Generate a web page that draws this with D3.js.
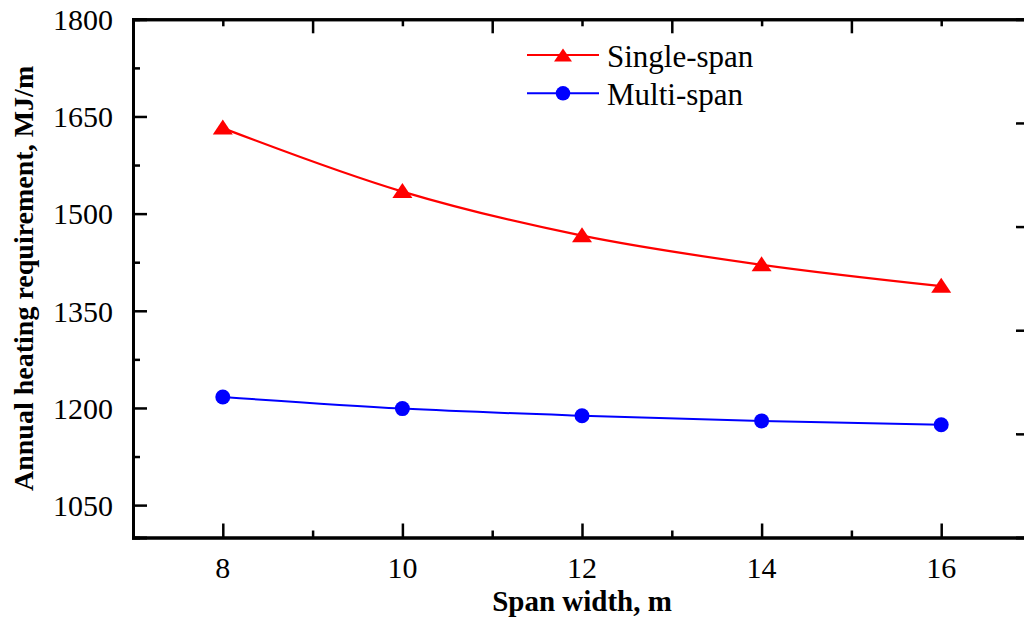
<!DOCTYPE html>
<html>
<head>
<meta charset="utf-8">
<script src="https://cdn.jsdelivr.net/npm/d3@7"></script>
<style>
html,body{margin:0;padding:0;background:#fff;}
svg{display:block;}
text{font-family:"Liberation Serif","Times New Roman",serif;fill:#000;}
</style>
</head>
<body>
<svg id="chart" width="1024" height="619"></svg>
<script>
// ---- data ----
const spanWidths = [8, 10, 12, 14, 16];
const singleSpan = [1632, 1534, 1466, 1421, 1388];
const multiSpan = [1217, 1199, 1188, 1180, 1174];
const seriesNames = ["Single-span", "Multi-span"];
const yTicks = [1050, 1200, 1350, 1500, 1650, 1800];
const yMinorTicks = [1125, 1275, 1425, 1575, 1725];
const xTicks = [8, 10, 12, 14, 16];
const xMinorTicks = [9, 11, 13, 15];
const rightTicks = [1, 2, 3, 4];
const xTitle = "Span width, m";
const yTitle = "Annual heating requirement, MJ/m";

const svg = d3.select("#chart");
const L = 133, R = 1031, T = 19.3, B = 537.5;
const x = d3.scaleLinear().domain([7, 17]).range([L, R]);
const y = d3.scaleLinear().domain([1000, 1800]).range([B, T]);
const yR = d3.scaleLinear().domain([0, 5]).range([B, T]);

const tickStroke = 2.5, axisStroke = 3;

// left axis
const gL = svg.append("g").attr("transform", `translate(${L},0)`);
gL.call(d3.axisRight(y).tickValues(yTicks).tickSize(14).tickFormat(""));
gL.append("g").call(d3.axisRight(y).tickValues(yMinorTicks).tickSize(7).tickFormat(""));
gL.selectAll("text").remove();
yTicks.forEach(v => {
  gL.append("text").attr("x", -20).attr("y", y(v)).attr("dy", "0.36em")
    .attr("text-anchor", "end").attr("font-size", 30).text(v);
});

// bottom axis
const gB = svg.append("g").attr("transform", `translate(0,${B})`);
gB.call(d3.axisTop(x).tickValues(xTicks).tickSize(14).tickFormat(""));
gB.append("g").call(d3.axisTop(x).tickValues(xMinorTicks).tickSize(7).tickFormat(""));
xTicks.forEach(v => {
  gB.append("text").attr("x", x(v)).attr("y", 40).attr("text-anchor", "middle")
    .attr("font-size", 30).text(v);
});

// top axis (mirror, long ticks at odd values)
const gT = svg.append("g").attr("transform", `translate(0,${T})`);
gT.call(d3.axisBottom(x).tickValues(xMinorTicks).tickSize(14).tickFormat(""));
gT.append("g").call(d3.axisBottom(x).tickValues(xTicks).tickSize(7).tickFormat(""));

// right axis
const gR = svg.append("g").attr("transform", `translate(${R},0)`);
gR.call(d3.axisLeft(yR).tickValues(rightTicks).tickSize(15).tickFormat(""));

svg.selectAll(".domain").attr("stroke", "#000").attr("stroke-width", axisStroke);
svg.selectAll(".tick line").attr("stroke", "#000").attr("stroke-width", tickStroke);

// titles
svg.append("text").attr("x", x(12)).attr("y", 611).attr("text-anchor", "middle")
  .attr("font-size", 29).attr("font-weight", "bold").text(xTitle);
svg.append("text").attr("transform", `translate(33,${(T + B) / 2}) rotate(-90)`)
  .attr("text-anchor", "middle").attr("font-size", 28).attr("font-weight", "bold").text(yTitle);

// series
const line = d3.line().x(d => x(d[0])).y(d => y(d[1])).curve(d3.curveCatmullRom.alpha(0.5));
const sData = spanWidths.map((w, i) => [w, singleSpan[i]]);
const mData = spanWidths.map((w, i) => [w, multiSpan[i]]);
const red = "#ff0000", blue = "#0000ff";

svg.append("path").datum(sData).attr("d", line).attr("fill", "none").attr("stroke", red).attr("stroke-width", 2.2);
svg.append("path").datum(mData).attr("d", line).attr("fill", "none").attr("stroke", blue).attr("stroke-width", 2);

const tri = (cx, cy, w, h) => `M${cx},${cy - h / 2}L${cx + w / 2},${cy + h / 2}L${cx - w / 2},${cy + h / 2}Z`;
svg.append("g").selectAll("path").data(sData).join("path")
  .attr("d", d => tri(x(d[0]), y(d[1]) - 1, 20, 15)).attr("fill", red);
svg.append("g").selectAll("circle").data(mData).join("circle")
  .attr("cx", d => x(d[0])).attr("cy", d => y(d[1])).attr("r", 7.5).attr("fill", blue);

// legend
const lg = svg.append("g");
const legY = [55, 93.3];
const colors = [red, blue];
seriesNames.forEach((name, i) => {
  lg.append("line").attr("x1", 527).attr("x2", 599).attr("y1", legY[i]).attr("y2", legY[i])
    .attr("stroke", colors[i]).attr("stroke-width", 2);
  if (i === 0) lg.append("path").attr("d", tri(563, legY[i], 18, 13)).attr("fill", red);
  else lg.append("circle").attr("cx", 563).attr("cy", legY[i]).attr("r", 7.3).attr("fill", blue);
  lg.append("text").attr("x", 607).attr("y", legY[i]).attr("dy", "0.38em")
    .attr("font-size", 31).text(name);
});
</script>
</body>
</html>
